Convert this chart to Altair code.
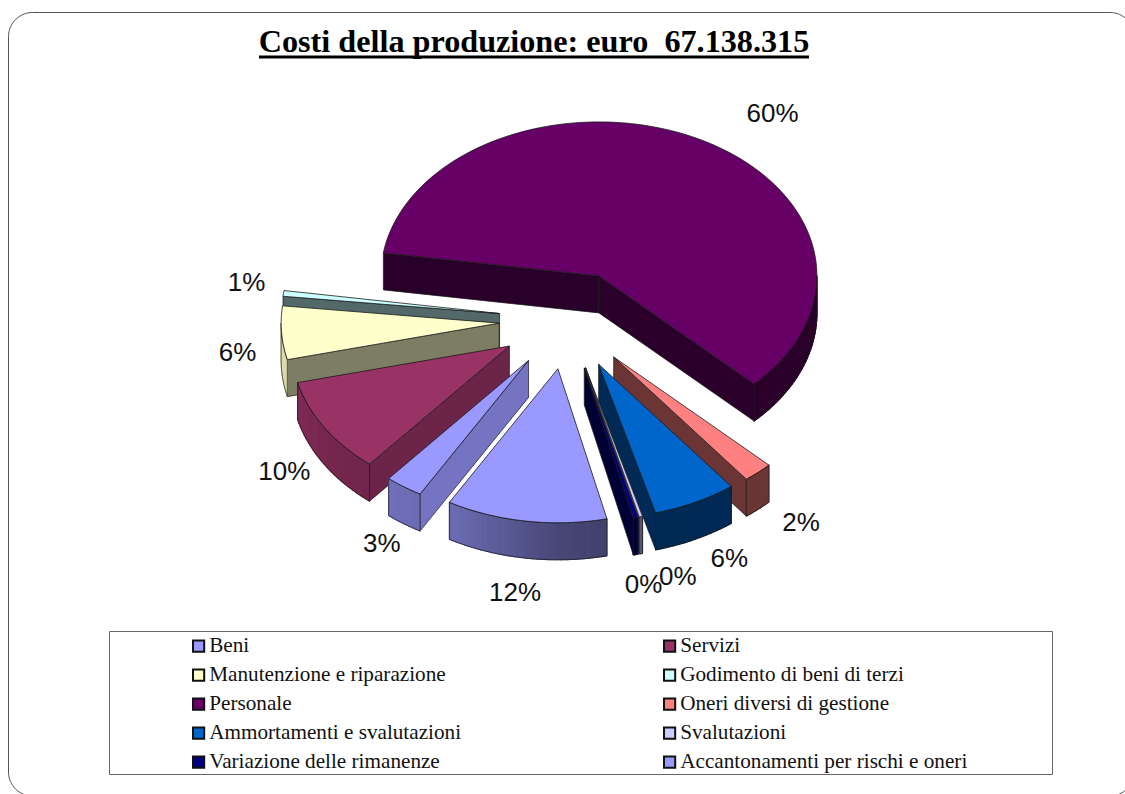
import math
import altair as alt

# Cost items in legend order, with their share of production costs (%)
names = ["Beni", "Servizi", "Manutenzione e riparazione", "Godimento di beni di terzi",
         "Personale", "Oneri diversi di gestione", "Ammortamenti e svalutazioni",
         "Svalutazioni", "Variazione delle rimanenze", "Accantonamenti per rischi e oneri"]
shares = [2.8, 10.1, 5.6, 0.6, 60.0, 2.2, 6.2, 0.25, 0.35, 11.9]
colors = ["#9999FF", "#993366", "#FFFFCC", "#CCFFFF", "#660066",
          "#FF8080", "#0066CC", "#CCCCFF", "#000080", "#9999FF"]

# Label displacement from the outer rim of each slice (pixels)
label_dx = [-22, -40, -44, -37, 76, 43, 34, 37, 8, -11]
label_dy = [57, 45, 20, -10, -24, 51, 57, 60, 67, 72]

# Painter's order, farthest slice first
draw_order = [4, 3, 2, 1, 0, 5, 6, 9, 7, 8]

# Oblique projection of the exploded pie
CX, CY = 568, 320
RX, RY = 218, 154
EX, EY = 69, 49.3
DEPTH = 37
PERSONALE_START = 278.6


def point(deg, ox, oy, drop=0.0):
    a = math.radians(deg)
    return [ox + RX * math.sin(a), oy - RY * math.cos(a) + drop]


def lerp_shade(t, stops):
    for (a0, f0), (a1, f1) in zip(stops, stops[1:]):
        if a0 <= t <= a1:
            return f0 + (f1 - f0) * (t - a0) / (a1 - a0)
    return stops[0][1] if t < stops[0][0] else stops[-1][1]


def shaded(hex_color, factor):
    channels = [int(hex_color[i:i + 2], 16) for i in (1, 3, 5)]
    return "#%02x%02x%02x" % tuple(min(255, int(c * factor)) for c in channels)


RIM_SHADE = [(90, .42), (165, .42), (180, .47), (208, .70), (235, .78), (270, .88)]
EDGE_SHADE = [(110, .80), (128, .73), (164, .50), (186, .41)]
OUTLINE = "#1a1a1a"


def feature(ring, fill, stroke=None, width=0.0):
    return {"type": "Feature",
            "geometry": {"type": "Polygon", "coordinates": [ring + [ring[0]]]},
            "properties": {"fill": fill, "stroke": stroke or fill, "sw": width}}


def apex(mid):
    a = math.radians(mid)
    return CX + EX * math.sin(a), CY - EY * math.cos(a)


# Angular span of each slice, clockwise from north; only Personale crosses north
spans = {}
cursor = PERSONALE_START - 360 * sum(shares[:4]) / 100
for i, share in enumerate(shares):
    sweep = 360 * share / 100
    wrap = 360 if cursor >= 360 else 0
    spans[i] = (cursor - wrap, cursor - wrap + sweep)
    cursor += sweep

features = []
for i in draw_order:
    a0, a1 = spans[i]
    mid = (a0 + a1) / 2
    ox, oy = apex(mid)
    steps = max(2, int((a1 - a0) / 1.5))
    arc = [a0 + (a1 - a0) * k / steps for k in range(steps + 1)]
    base = colors[i]

    # Flat end walls from the apex to the rim, where they face the viewer
    if a0 > 180:
        start_wall = [[ox, oy], point(a0, ox, oy), point(a0, ox, oy, DEPTH), [ox, oy + DEPTH]]
        features.append(feature(start_wall, shaded(base, lerp_shade(a0 - 90, EDGE_SHADE)), OUTLINE, .7))
    if a1 % 360 < 180:
        end_wall = [[ox, oy], point(a1, ox, oy), point(a1, ox, oy, DEPTH), [ox, oy + DEPTH]]
        features.append(feature(end_wall, shaded(base, .42), OUTLINE, .7))

    # Only the part of the rim turned towards the viewer is drawn
    if a1 > 360:
        rim_lo, rim_hi = 450.0, a1
    else:
        rim_lo, rim_hi = max(a0, 90.0), min(a1, 270.0)
    if rim_hi > rim_lo:
        n = max(2, int((rim_hi - rim_lo) / 1.5))
        rim_arc = [rim_lo + (rim_hi - rim_lo) * k / n for k in range(n + 1)]
        # Short strips let the shade follow the angle
        for p, q in zip(rim_arc, rim_arc[1:]):
            c = shaded(base, lerp_shade(((p + q) / 2) % 360, RIM_SHADE))
            features.append(feature(
                [point(p, ox, oy), point(q, ox, oy), point(q, ox, oy, DEPTH), point(p, ox, oy, DEPTH)],
                c, c, 1.2))
        ring = [point(a, ox, oy) for a in rim_arc] + [point(a, ox, oy, DEPTH) for a in reversed(rim_arc)]
        features.append(feature(ring, "transparent", OUTLINE, .7))

    top = [[ox, oy]] + [point(a, ox, oy) for a in arc]
    features.append(feature(top, base, OUTLINE, .8))

labels = []
for i in range(len(names)):
    a0, a1 = spans[i]
    mid = (a0 + a1) / 2
    rim = point(mid, *apex(mid))
    labels.append({"px": rim[0] + label_dx[i], "py": rim[1] + label_dy[i],
                   "text": f"{round(shares[i])}%"})

W, H = 1125, 794
title_text = "Costi della produzione: euro\u00a0 67.138.315"
pixel_x = alt.X("px:Q", scale=alt.Scale(domain=[0, W], range=[0, W]), axis=None)
pixel_y = alt.Y("py:Q", scale=alt.Scale(domain=[0, H], range=[0, H]), axis=None)

frame = alt.Chart(alt.Data(values=[{"k": 1}])).mark_rect(
    fill="white", stroke="#555555", strokeWidth=1, cornerRadius=24
).encode(x=alt.value(8.5), x2=alt.value(1134), y=alt.value(12.5), y2=alt.value(796))

legend_box = alt.Chart(alt.Data(values=[{"k": 1}])).mark_rect(
    fill="white", stroke="#666666", strokeWidth=1
).encode(x=alt.value(109.5), x2=alt.value(1052.5), y=alt.value(631.5), y2=alt.value(774.5))

legend_layer = alt.Chart(alt.Data(values=[{"name": n, "px": -50, "py": -50} for n in names])).mark_square(
    size=1, opacity=1
).encode(
    x=pixel_x, y=pixel_y,
    color=alt.Color("name:N", scale=alt.Scale(domain=names, range=colors), legend=alt.Legend(
        title=None, orient="none", legendX=188, legendY=635.5, direction="horizontal", columns=2,
        symbolType="square", symbolSize=125, symbolStrokeColor="#111111", symbolStrokeWidth=2,
        symbolOpacity=1, labelFont="Liberation Serif", labelFontSize=21.2, labelColor="#111111",
        labelOffset=0, labelLimit=400, columnPadding=197, rowPadding=7, padding=0,
        gridAlign="each")),
)

pie = alt.Chart(alt.InlineData(
    values={"type": "FeatureCollection", "features": features},
    format=alt.DataFormat(property="features", type="json"),
)).mark_geoshape(strokeJoin="round").encode(
    fill=alt.Fill("properties.fill:N", scale=None),
    stroke=alt.Stroke("properties.stroke:N", scale=None),
    strokeWidth=alt.StrokeWidth("properties.sw:Q", scale=None),
).project(type="identity", scale=1, translate=[0, 0])

label_marks = alt.Chart(alt.Data(values=labels)).mark_text(
    font="Liberation Sans", fontSize=26, color="#111111", align="center", baseline="middle"
).encode(x=pixel_x, y=pixel_y, text="text:N")

title = alt.Chart(alt.Data(values=[{"t": title_text, "px": 534, "py": 42}])).mark_text(
    font="Liberation Serif", fontSize=32.2, fontWeight="bold", color="#000000", align="center", baseline="middle"
).encode(x=pixel_x, y=pixel_y, text="t:N")

title_rule = alt.Chart(alt.Data(values=[{"k": 1}])).mark_rule(color="#000000", strokeWidth=3).encode(
    x=alt.value(259), x2=alt.value(809), y=alt.value(57))

chart = alt.layer(frame, legend_box, legend_layer, pie, label_marks, title, title_rule).resolve_scale(
    x="shared", y="shared"
).properties(
    width=W, height=H, padding=0, autosize=alt.AutoSizeParams(type="none")
).configure_view(stroke=None)

chart.save("out.html", embed_options={"renderer": "svg", "actions": False})
